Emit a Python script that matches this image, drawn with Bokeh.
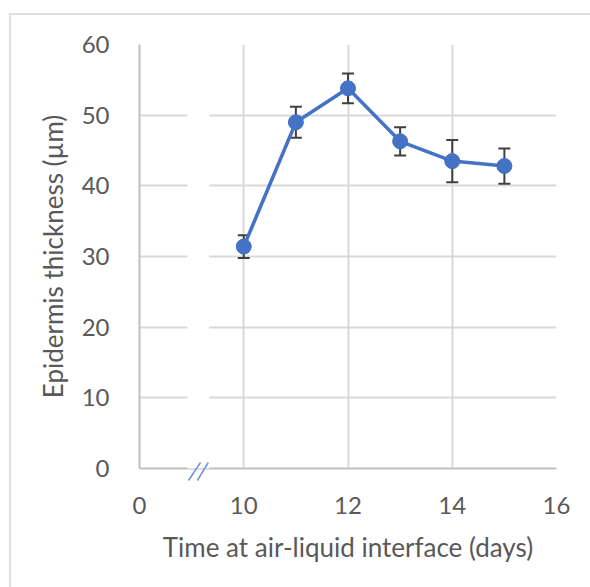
from bokeh.plotting import figure
from bokeh.models import Range1d, FixedTicker, Whisker, ColumnDataSource, BoxAnnotation, TeeHead, InlineStyleSheet
from bokeh.embed import file_html
from bokeh.resources import INLINE

# data
days = [10, 11, 12, 13, 14, 15]
thickness = [31.4, 49.0, 53.8, 46.3, 43.5, 42.8]
sd = [1.6, 2.2, 2.1, 2.0, 3.0, 2.5]
x_ticks = [8, 10, 12, 14, 16]
x_tick_labels = {8: "0"}
y_ticks = [0, 10, 20, 30, 40, 50, 60]

upper = [t + s for t, s in zip(thickness, sd)]
lower = [t - s for t, s in zip(thickness, sd)]
src = ColumnDataSource(dict(x=days, y=thickness, upper=upper, lower=lower))

FONT = "Lato"
GREY = "#595959"

border_css = InlineStyleSheet(css="""
:host::after {
  content: "";
  position: absolute;
  left: 9px; top: 13px; right: 0px; bottom: 0px;
  border-top: 2px solid #dedede;
  border-left: 2px solid #dedede;
  pointer-events: none;
  z-index: 5;
}
""")

p = figure(width=590, height=587, output_backend="svg", toolbar_location=None,
           x_range=Range1d(8, 16), y_range=Range1d(0, 60),
           min_border_left=139, min_border_right=34, min_border_top=44, min_border_bottom=119,
           stylesheets=[border_css])
p.outline_line_color = None
p.background_fill_color = "white"
p.border_fill_color = "white"

# grid
p.xgrid.ticker = FixedTicker(ticks=[10, 12, 14, 16])
p.ygrid.ticker = FixedTicker(ticks=y_ticks)
p.xgrid.grid_line_color = "#d9d9d9"
p.ygrid.grid_line_color = "#d9d9d9"
p.xgrid.grid_line_width = 2
p.ygrid.grid_line_width = 2

# axes
p.xaxis.ticker = FixedTicker(ticks=x_ticks)
p.xaxis.major_label_overrides = x_tick_labels
p.yaxis.ticker = FixedTicker(ticks=y_ticks)
for ax in (p.xaxis[0], p.yaxis[0]):
    ax.axis_line_color = "#bfbfbf"
    ax.axis_line_width = 2
    ax.major_tick_line_color = None
    ax.minor_tick_line_color = None
    ax.major_label_text_font = FONT
    ax.major_label_text_font_size = "24px"
    ax.major_label_text_color = GREY
    ax.axis_label_text_font = FONT
    ax.axis_label_text_font_size = "26px"
    ax.axis_label_text_color = GREY
    ax.axis_label_text_font_style = "normal"
p.xaxis.major_label_standoff = 22
p.yaxis.major_label_standoff = 24
p.xaxis.axis_label = "Time at air-liquid interface (days)"
p.yaxis.axis_label = "Epidermis thickness (µm)"
p.xaxis.axis_label_standoff = 14
p.yaxis.axis_label_standoff = 10

# error bars
w = Whisker(source=src, base="x", upper="upper", lower="lower", dimension="height",
            line_color="#404040", line_width=2,
            upper_head=TeeHead(size=12, line_color="#404040", line_width=2),
            lower_head=TeeHead(size=12, line_color="#404040", line_width=2))
w.level = "underlay"
p.add_layout(w)

p.line("x", "y", source=src, line_color="#4472C4", line_width=3.5)
p.scatter("x", "y", source=src, size=15, fill_color="#4472C4", line_color="#4472C4")

# axis break
brk = BoxAnnotation(left=8.92, right=9.34, bottom=-0.6, top=60.5, fill_color="white", fill_alpha=1,
                    line_color=None)
p.add_layout(brk)
p.segment(x0=[8.94, 9.11], y0=[-1.7, -1.7], x1=[9.17, 9.32], y1=[0.85, 0.85],
          line_color="#6f93d8", line_width=1.5, level="overlay")

open("out.html", "w").write(file_html(p, INLINE))
